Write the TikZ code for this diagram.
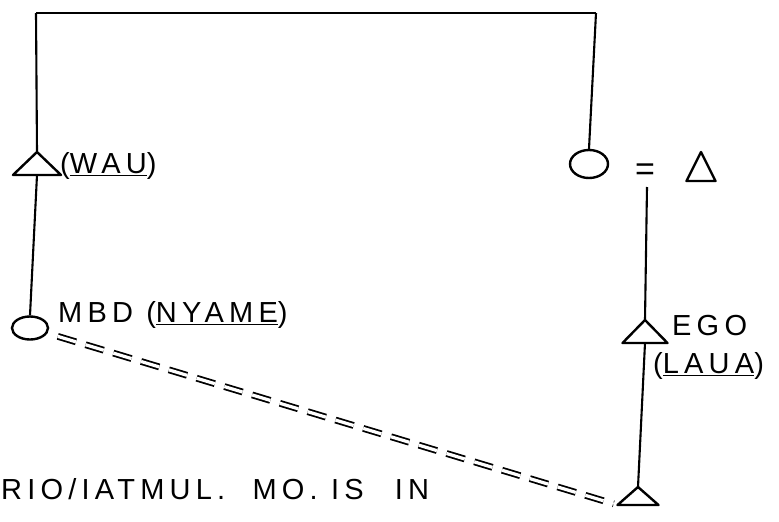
\documentclass[tikz,border=0pt]{standalone}
\usepackage{fontspec}
\newfontfamily\hand{Liberation Sans}[LetterSpace=18]
\usetikzlibrary{shapes.geometric,calc}
\tikzset{
  sym/.style={line width=2.4pt, line join=round},
  link/.style={line width=2.1pt},
  female/.style={ellipse, draw, line width=2.4pt, inner sep=0pt},
  label/.style={font=\hand\fontsize{29}{32}\selectfont, inner sep=0pt},
  pics/tri/.style n args={2}{code={
    \draw[sym] (0,0) coordinate (-apex) -- (#1/2,#2) coordinate (-br)
      -- (-#1/2,#2) coordinate (-bl) -- cycle;
    \coordinate (-base) at (0,#2);
  }},
  affinal/.style={line width=1.8pt, double, double distance=3.2pt,
    dash pattern=on 19pt off 10pt}
}
\begin{document}
\begin{tikzpicture}[x=1pt,y=-1pt]
\useasboundingbox (0,0) rectangle (779,522);
% top sibling bar
\coordinate (tl) at (36,13);
\coordinate (tr) at (596,13);
% symbols
\pic (wau) at (37,152) {tri={48}{23}};
\node[female, minimum width=36pt, minimum height=23pt] (mbd) at (30,328) {};
\node[female, minimum width=38pt, minimum height=28pt] (mo) at (589,164) {};
\node[label, font=\hand\fontsize{34}{36}\selectfont] (eq) at (645,172) {=};
\pic (fa) at (701,152) {tri={29}{29}};
\coordinate (eqb) at (647,187);
\pic (ego) at (645,320) {tri={45}{23}};
\pic (son) at (638,487) {tri={41}{18}};
% connectors
\draw[link] (tl) -- (tr);
\draw[link] (tl) -- (wau-apex);
\draw[link] (tr) -- (mo.north);
\draw[link] (wau-base) -- (mbd.north);
\draw[link] (eqb) -- (ego-apex);
\draw[link] (ego-base) -- (son-apex);
\draw[affinal, shorten <=29pt, shorten >=4pt] (mbd.center) -- (son-bl);
% labels
\node[label, anchor=west] (waul) at (60,166) {(\underline{WAU})};
\node[label, anchor=west] (mbdl) at (58,315) {MBD (\underline{NYAME})};
\node[label, anchor=west] (egol) at (672,326) {EGO};
\node[label, anchor=west] (laual) at (653,366) {(\underline{LAUA})};
\node[label, anchor=base west] (note) at (1,499) {RIO/IATMUL.\hspace{14pt} MO. IS\hspace{18pt} IN};
\end{tikzpicture}
\end{document}
